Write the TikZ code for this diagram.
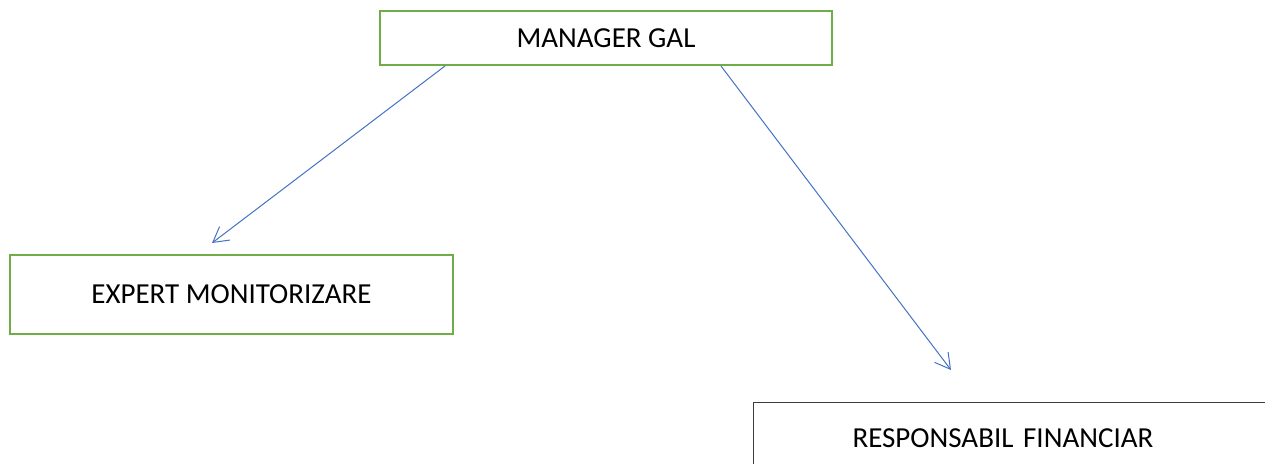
\documentclass[tikz,border=0pt]{standalone}
\usepackage{fontspec}
\setmainfont{Carlito}
\usetikzlibrary{arrows.meta}
\definecolor{boxgreen}{RGB}{112,173,71}
\definecolor{arrowblue}{RGB}{68,114,196}
\definecolor{boxgray}{RGB}{60,60,60}
\begin{document}
\begin{tikzpicture}[x=1pt,y=-1pt,
  greenbox/.style={draw=boxgreen, line width=2pt, fill=white, inner sep=0pt,
    font=\fontsize{29}{32}\selectfont, text=black},
  link/.style={draw=arrowblue, line width=1pt, -{Straight Barb[length=15pt,width=17pt,line width=1pt]}}]
\useasboundingbox (0,0) rectangle (1265,463);
\clip (0,0) rectangle (1265,463);
\fill[white] (0,0) rectangle (1265,463);
\node[greenbox, minimum width=452pt, minimum height=54pt] (mgr) at (606,38) {MANAGER GAL};
\node[greenbox, minimum width=443pt, minimum height=79pt] (exp) at (231.5,294.5) {EXPERT MONITORIZARE};
\node[draw=boxgray, line width=1pt, anchor=north west, minimum width=560pt, minimum height=72pt,
  text width=362pt, inner xsep=99pt, inner ysep=0pt, align=left,
  font=\fontsize{29}{32}\selectfont] (fin) at (753,402) {RESPONSABIL FINANCIAR};
\coordinate (e1) at (212,243);
\coordinate (e2) at (951,370);
\draw[link] ([xshift=66pt]mgr.south west) -- (e1);
\draw[link] ([xshift=342pt]mgr.south west) -- (e2);
\end{tikzpicture}
\end{document}
